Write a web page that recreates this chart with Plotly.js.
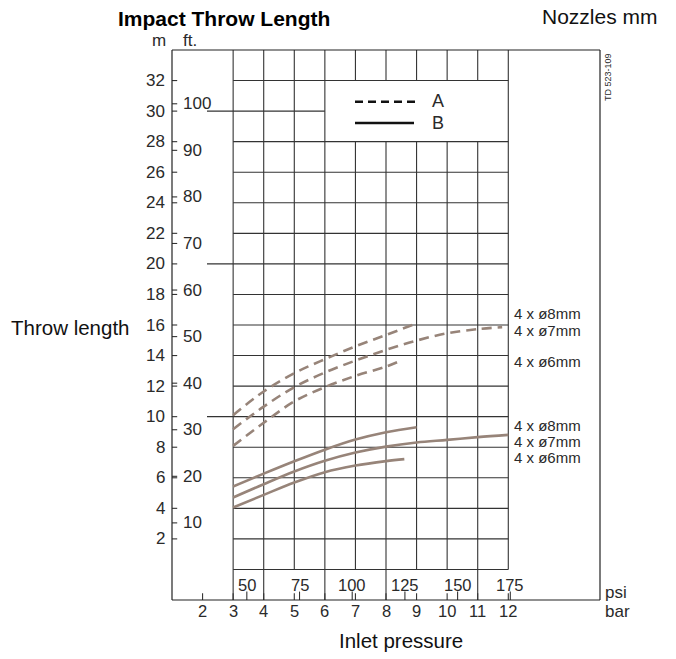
<!DOCTYPE html>
<html>
<head>
<meta charset="utf-8">
<script src="https://cdn.plot.ly/plotly-3.0.1.min.js"></script>
<style>html,body{margin:0;padding:0;background:#fff;}#chart{width:676px;height:659px;}</style>
</head>
<body>
<div id="chart"></div>
<script>
// ---- data (pressure in bar, throw length in m) ----
const curveNames = ["A 4 x ø8mm", "A 4 x ø7mm", "A 4 x ø6mm", "B 4 x ø8mm", "B 4 x ø7mm", "B 4 x ø6mm"];
const a8Bar = [3, 4, 5, 6, 7, 8, 9];
const a8Len = [10.1, 11.65, 12.85, 13.76, 14.6, 15.35, 16.1];
const a7Bar = [3, 4, 5, 6, 7, 8, 9, 10, 11, 11.8];
const a7Len = [9.18, 10.66, 11.93, 12.89, 13.67, 14.37, 14.98, 15.46, 15.73, 15.86];
const a6Bar = [3, 4, 5, 6, 7, 8, 8.46];
const a6Len = [8.09, 9.6, 11.0, 11.93, 12.67, 13.28, 13.65];
const b8Bar = [3, 4, 5, 6, 7, 8, 9];
const b8Len = [5.43, 6.27, 7.08, 7.84, 8.5, 8.98, 9.31];
const b7Bar = [3, 4, 5, 6, 7, 8, 9, 10, 11, 12];
const b7Len = [4.71, 5.58, 6.41, 7.11, 7.65, 8.04, 8.31, 8.48, 8.66, 8.81];
const b6Bar = [3, 4, 5, 6, 7, 8, 8.6];
const b6Len = [4.05, 4.88, 5.69, 6.37, 6.8, 7.09, 7.22];

// ---- tick labels ----
const mTicks = [2, 4, 6, 8, 10, 12, 14, 16, 18, 20, 22, 24, 26, 28, 30, 32];
const ftTicks = [10, 20, 30, 40, 50, 60, 70, 80, 90, 100];
const barTicks = [2, 3, 4, 5, 6, 7, 8, 9, 10, 11, 12];
const psiTicks = [50, 75, 100, 125, 150, 175];
const gridM = [0, 2, 4, 6, 8, 10, 12, 14, 16, 18, 20, 22, 24, 26, 28, 30, 32];
const gridBar = [3, 4, 5, 6, 7, 8, 9, 10, 11, 12];
const curveLabels = ["4 x ø8mm", "4 x ø7mm", "4 x ø6mm", "4 x ø8mm", "4 x ø7mm", "4 x ø6mm"];
const curveLabelY = [16.76, 15.64, 13.6, 9.45, 8.37, 7.33];

// ---- layout geometry ----
const L = 172, R = 600, T = 50, B = 600;
const px = x => (x - L) / (R - L);
const py = y => (B - y) / (B - T);
const FT = 0.3048, PSI = 14.5038;
const curveColor = "#978479";
const gridColor = "#333";
const textColor = "#2a2a2a";
const FONT = "Liberation Sans, Arial, sans-serif";

const series = [[a8Bar, a8Len, true], [a7Bar, a7Len, true], [a6Bar, a6Len, true],
                [b8Bar, b8Len, false], [b7Bar, b7Len, false], [b6Bar, b6Len, false]];
const traces = series.map((s, i) => ({
  x: s[0], y: s[1], type: "scatter", mode: "lines", name: curveNames[i],
  line: {color: curveColor, width: 2.6, shape: "spline", smoothing: 1, dash: s[2] ? "10px,6px" : "solid"},
  hoverinfo: "skip", showlegend: false
}));

const shapes = [];
const ln = (x0, y0, x1, y1, extra) => shapes.push(Object.assign({type: "line", xref: "x", yref: "y", x0, y0, x1, y1, line: {color: gridColor, width: 1.1}, layer: "below"}, extra || {}));

// vertical grid lines
const fullBars = [3, 4, 6, 8, 11];
gridBar.forEach(b => {
  const y0 = fullBars.includes(b) ? -2 : 0;
  if (b > 6 && b < 12) { ln(b, y0, b, 28); ln(b, 32, b, 34); }
  else ln(b, y0, b, 34);
});
// horizontal grid lines
gridM.forEach(m => {
  const x0 = [10, 20, 30].includes(m) ? 2.145 : 3;
  const x1 = m === 30 ? 6 : 12;
  ln(x0, m, x1, m);
});
// left axis ticks
mTicks.forEach(m => ln(1, m, 1.17, m));
ftTicks.forEach(f => ln(1, f * FT, 1.17, f * FT));
// bottom ticks
barTicks.forEach(b => ln(b, -2, b, -1.55));
psiTicks.forEach(p => ln(p / PSI, -2, p / PSI, -1.45));
// frame
[[0, 1, 1, 1], [0, 0, 1, 0], [0, 0, 0, 1], [1, 0, 1, 1]].forEach(f =>
  shapes.push({type: "line", xref: "paper", yref: "paper", x0: f[0], y0: f[1], x1: f[2], y1: f[3], line: {color: "#222", width: 1.2}}));
// legend lines
shapes.push({type: "line", xref: "paper", yref: "paper", x0: px(355), x1: px(415), y0: py(101.7), y1: py(101.7), line: {color: "#111", width: 2.6, dash: "8px,5px"}});
shapes.push({type: "line", xref: "paper", yref: "paper", x0: px(355), x1: px(414), y0: py(123), y1: py(123), line: {color: "#111", width: 2.6}});

const ann = [];
const txt = (text, x, y, xa, ya, size, extra) => ann.push(Object.assign({text, x, y, xref: "paper", yref: "paper", xanchor: xa, yanchor: ya, showarrow: false, font: {family: FONT, size, color: textColor}}, extra || {}));

// m labels
mTicks.forEach(m => ann.push({text: String(m), x: 0, xref: "paper", y: m, yref: "y", xanchor: "right", yanchor: "middle", xshift: -5, showarrow: false, font: {family: FONT, size: 17, color: textColor}}));
// ft labels
ftTicks.forEach(f => ann.push({text: String(f), x: 0, xref: "paper", y: f * FT, yref: "y", xanchor: "left", yanchor: "middle", xshift: 9, showarrow: false, font: {family: FONT, size: 17, color: textColor}}));
// bar labels
barTicks.forEach(b => ann.push({text: String(b), x: b, xref: "x", y: 0, yref: "paper", xanchor: "center", yanchor: "top", yshift: 0, showarrow: false, font: {family: FONT, size: 16.5, color: textColor}}));
// psi labels
psiTicks.forEach(p => ann.push({text: String(p), x: p / PSI, xref: "x", y: -1.0, yref: "y", xanchor: "center", yanchor: "middle", showarrow: false, font: {family: FONT, size: 16.5, color: textColor}}));
// curve labels
curveLabels.forEach((t, i) => ann.push({text: t, x: 12, xref: "x", y: curveLabelY[i], yref: "y", xanchor: "left", yanchor: "middle", xshift: 5, borderpad: 0, showarrow: false, font: {family: FONT, size: 15, color: textColor}}));

txt("<b>Impact Throw Length</b>", px(116), py(18), "left", "middle", 21, {font: {family: FONT, size: 21, color: "#000"}});
txt("Nozzles mm", px(540), py(17), "left", "middle", 21, {font: {family: FONT, size: 21, color: "#111"}});
txt("m", px(159), py(40), "center", "middle", 17);
txt("ft.", px(190), py(40), "center", "middle", 17);
txt("Throw length", px(9), py(328), "left", "middle", 20.5, {font: {family: FONT, size: 20.5, color: "#111"}});
txt("Inlet pressure", px(401), py(640), "center", "middle", 20.5, {font: {family: FONT, size: 20.5, color: "#111"}});
txt("psi", px(603), py(592), "left", "middle", 17);
txt("bar", px(603), py(611), "left", "middle", 17);
txt("A", px(438), py(101), "center", "middle", 18);
txt("B", px(438), py(123), "center", "middle", 18);
txt("TD 523-109", px(608), py(77), "center", "middle", 9, {textangle: -90});

const layout = {
  width: 676, height: 659,
  margin: {l: L, r: 676 - R, t: T, b: 659 - B, pad: 0},
  paper_bgcolor: "#fff", plot_bgcolor: "#fff",
  xaxis: {range: [1, 15], showgrid: false, zeroline: false, showticklabels: false, ticks: "", showline: false, fixedrange: true},
  yaxis: {range: [-2, 34], showgrid: false, zeroline: false, showticklabels: false, ticks: "", showline: false, fixedrange: true},
  shapes: shapes, annotations: ann, showlegend: false
};
Plotly.newPlot("chart", traces, layout, {displayModeBar: false, staticPlot: true});
</script>
</body>
</html>
